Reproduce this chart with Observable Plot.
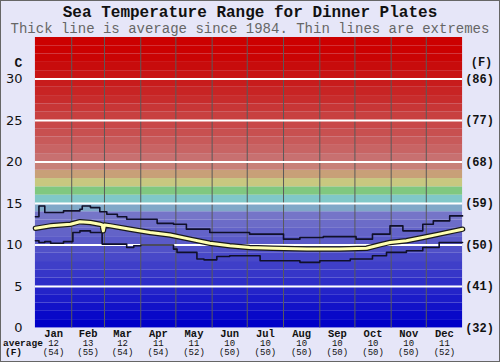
<!DOCTYPE html>
<html><head><meta charset="utf-8">
<script src="https://cdn.jsdelivr.net/npm/d3@7"></script>
<script src="https://cdn.jsdelivr.net/npm/@observablehq/plot@0.6"></script>
<style>
body{margin:0;background:#fff;}
#wrap{position:relative;width:500px;height:362px;box-sizing:border-box;background:#e6e6f8;border:1px solid #666;overflow:hidden;}
#title{position:absolute;left:-1px;top:3px;width:500px;text-align:center;font:bold 16px "Liberation Mono",monospace;color:#111;line-height:18px;}
#sub{position:absolute;left:-1px;top:19px;width:500px;text-align:center;font:14px "Liberation Mono",monospace;color:#666;line-height:18px;white-space:nowrap;}
#chart{position:absolute;left:-1px;top:35px;}
#chart svg{overflow:visible;}
</style></head>
<body>
<div id="wrap">
<div id="title">Sea Temperature Range for Dinner Plates</div>
<div id="sub">Thick line is average since 1984. Thin lines are extremes</div>
<div id="chart"></div>
</div>
<script>
const months = ["Jan","Feb","Mar","Apr","May","Jun","Jul","Aug","Sep","Oct","Nov","Dec"];
const monthStart = [0,31,59,90,120,151,181,212,243,273,304,334,365];
const avgC = [12,13,12,11,11,10,10,10,10,10,10,11];
const avgF = [54,55,54,54,52,50,50,50,50,50,50,52];
const yTicksC = [0,5,10,15,20,25,30];
const yTicksF = [32,41,50,59,68,77,86];

const maxDay = [0,3,8,24,38,40,47,55,61,70,78,104,118,129,149,183,212,226,246,274,288,303,314,331,340,354,365];
const maxT   = [13.4,14.7,13.9,14.1,14.3,14.7,14.5,14.0,13.7,13.4,13.1,12.6,12.5,11.9,11.5,11.3,10.7,10.9,11.0,10.7,11.3,12.3,11.7,12.5,12.9,13.5,13.5];
const meanDay = [0,13,30,38,47,55,57,58,59,64,81,98,115,132,149,166,183,203,232,260,283,294,303,317,331,345,365];
const meanT   = [12.0,12.3,12.5,12.8,12.7,12.5,12.4,11.7,12.4,12.3,11.9,11.5,11.2,10.7,10.2,9.9,9.7,9.6,9.5,9.5,9.6,10.0,10.3,10.5,10.9,11.3,11.9];
const minDay = [0,3,8,13,24,32,38,47,57,78,84,90,118,121,138,144,155,166,192,226,243,269,288,300,317,331,345,365];
const minT   = [10.5,10.3,10.4,10.2,10.4,11.5,11.7,11.5,10.1,9.7,9.9,10.0,9.5,9.1,8.3,8.2,8.6,8.7,8.1,7.9,8.1,8.3,8.7,9.1,9.3,9.7,10.3,10.3];

// background palette, one band per degree C from 0 to 35
const bandColors = [
 "#0000c8","#0909c8","#1212c8","#1b1bc8","#2424c8","#2d2dc8","#3636c8","#3f3fc8","#4848c8","#5151c8",
 "#5a5ac8","#6363c8","#6c6cc8","#7575c8","#80a8c8","#80c8c8","#80c880","#c8c880","#c8a078","#c88078",
 "#c87070","#c86464","#c85a5a","#c85050","#c84848","#c84040","#c83636","#c82c2c","#c82424","#c81c1c",
 "#c81414","#c80c0c","#ca0404","#cc0000","#cc0000"
];

const bands = bandColors.map((c,i)=>({t:i, c}));
const mk = (ds,ts)=>ds.map((d,i)=>({day:d, t:ts[i]}));
const maxData = mk(maxDay,maxT), meanData = mk(meanDay,meanT), minData = mk(minDay,minT);
const mids = months.map((m,i)=>(monthStart[i]+monthStart[i+1])/2);
const bottomRows = months.map((m,i)=>({x:mids[i], m, c:avgC[i], f:avgF[i]}));
const rightRows = yTicksC.map((c,i)=>({c, f:yTicksF[i]}));
const mono = "Liberation Mono, monospace";
const ctr = {textAnchor:"middle", lineAnchor:"middle"};

const chart = Plot.plot({
  width: 500, height: 326,
  marginTop: 1, marginLeft: 35, marginRight: 37, marginBottom: 34,
  x: {domain:[0,365], axis:null},
  y: {domain:[0,35], axis:null},
  color: {type:"identity"},
  marks: [
    Plot.rect(bands, {x1:()=>0, x2:()=>365, y1:"t", y2:d=>d.t+1, fill:"c"}),
    Plot.ruleX(monthStart.slice(1,12), {stroke:"#5a5a5a", strokeWidth:1}),
    Plot.ruleY(yTicksC.slice(1), {stroke:"#fff", strokeWidth:2}),
    Plot.line(maxData, {x:"day", y:"t", curve:"step-after", stroke:"#10102a", strokeWidth:1.6}),
    Plot.line(minData, {x:"day", y:"t", curve:"step-after", stroke:"#10102a", strokeWidth:1.6}),
    Plot.line(meanData, {x:"day", y:"t", stroke:"#1a1a1a", strokeWidth:5.5}),
    Plot.line(meanData, {x:"day", y:"t", stroke:"#ffffb0", strokeWidth:3}),
    Plot.axisY({ticks:yTicksC, anchor:"left", tickSize:0, tickPadding:13, fontSize:13, fontFamily:"DejaVu Sans, sans-serif", fill:"#111", label:null}),
    Plot.text(["C"], {frameAnchor:"left", y:()=>32, dx:-17, text:d=>d, fontSize:13, fontWeight:"bold", fontFamily:mono, fill:"#111", ...ctr}),
    Plot.text(rightRows, {frameAnchor:"right", y:"c", dx:17, text:d=>`(${d.f})`, fontSize:12, fontWeight:"bold", fontFamily:mono, fill:"#111", ...ctr}),
    Plot.text(["(F)"], {frameAnchor:"right", y:()=>32, dx:19, text:d=>d, fontSize:12, fontWeight:"bold", fontFamily:mono, fill:"#111", ...ctr}),
    Plot.text(bottomRows, {x:"x", y:()=>0, dy:5.5, text:"m", fontSize:10.5, fontWeight:"bold", fontFamily:mono, fill:"#111", ...ctr}),
    Plot.text(bottomRows, {x:"x", y:()=>0, dy:15, text:d=>String(d.c), fontSize:9, fontFamily:mono, fill:"#111", ...ctr}),
    Plot.text(bottomRows, {x:"x", y:()=>0, dy:24.5, text:d=>`(${d.f})`, fontSize:9, fontFamily:mono, fill:"#111", ...ctr}),
    Plot.text(["average"], {frameAnchor:"bottom-left", dx:-12.5, dy:15, text:d=>d, fontSize:9.5, fontWeight:"bold", fontFamily:mono, fill:"#111", ...ctr}),
    Plot.text(["(F)"], {frameAnchor:"bottom-left", dx:-22, dy:24.5, text:d=>d, fontSize:9.5, fontWeight:"bold", fontFamily:mono, fill:"#111", ...ctr})
  ]
});
document.getElementById("chart").appendChild(chart);
</script>
</body></html>
